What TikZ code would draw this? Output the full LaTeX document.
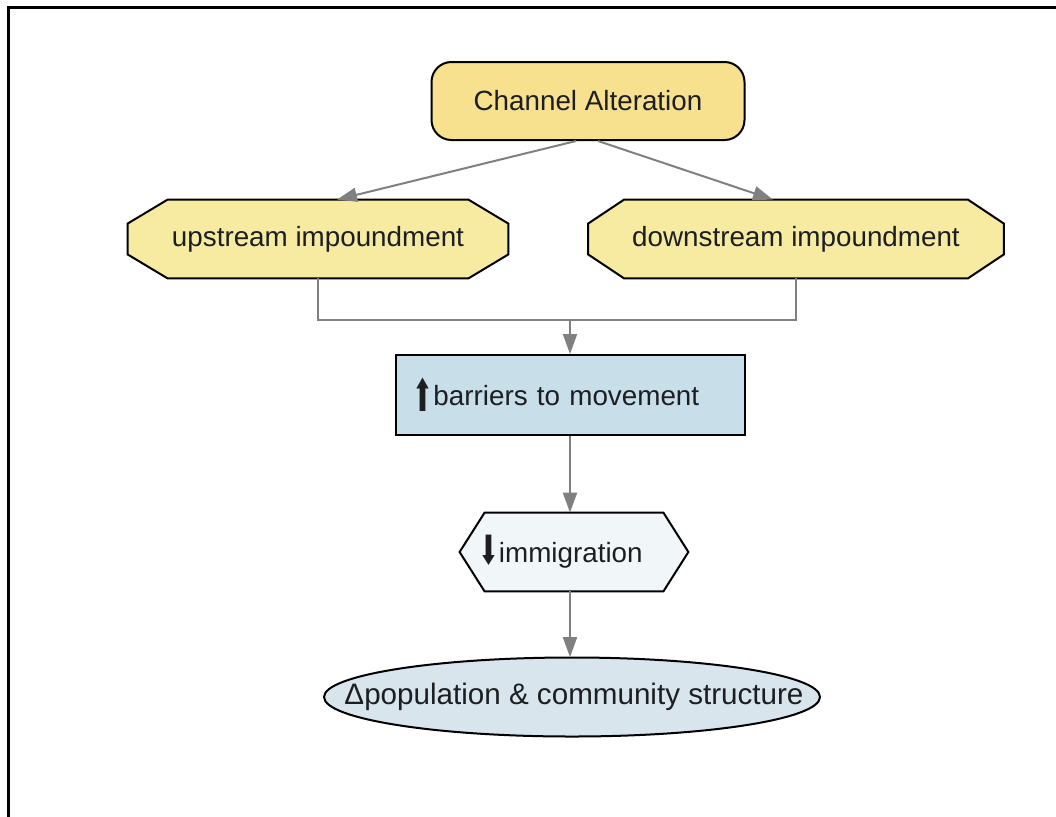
\documentclass[tikz,border=0pt]{standalone}
\usepackage{fontspec}
\usepackage{graphicx}
\setmainfont{Liberation Sans}
\newfontfamily\symfont{DejaVu Sans}
\usetikzlibrary{arrows.meta}
\pgfdeclarelayer{bg}
\pgfsetlayers{bg,main}

\definecolor{alterfill}{RGB}{247,224,142}
\definecolor{impfill}{RGB}{246,235,160}
\definecolor{barfill}{RGB}{200,222,232}
\definecolor{immfill}{RGB}{241,246,249}
\definecolor{popfill}{RGB}{216,229,237}
\definecolor{linkgray}{RGB}{128,128,128}
\definecolor{inkdark}{RGB}{28,30,34}

% tall heavy arrow glyphs used inside labels
\newcommand{\uparr}{\raisebox{-3pt}{\scalebox{0.9}[1.6]{\symfont ⬆}}}
\newcommand{\downarr}{\raisebox{-1pt}{\scalebox{0.9}[1.45]{\symfont ⬇}}}

\tikzset{
  lbl/.style={font=\fontsize{13.9}{16}\selectfont, text=inkdark, inner sep=0pt},
  outline/.style={draw=black, line width=1pt},
  link/.style={draw=linkgray, line width=1pt},
  conn/.style={link, -{Triangle[width=7pt,length=10pt]}},
}

\begin{document}
\begin{tikzpicture}[x=0.5pt, y=-0.5pt]
\useasboundingbox (0,0) rectangle (1056,816);

% frame
\draw[line width=1.5pt, line cap=rect] (8,816) -- (8,7) -- (1056,7);

% nodes
\node[lbl, outline, fill=alterfill, rounded corners=10pt,
      minimum width=156.5pt, minimum height=39pt] (ca) at (588,101) {Channel Alteration};

\node[lbl, minimum width=190pt, minimum height=39pt] (up) at (318,239) {upstream impoundment};
\node[lbl, minimum width=207.5pt, minimum height=39pt] (down) at (796,239) {downstream impoundment};

\node[lbl, outline, fill=barfill, minimum width=174.5pt, minimum height=40pt,
      inner xsep=8.5pt, text width=157.5pt, align=left] (bar) at (570,395)
      {\uparr barriers to movement};

\node[lbl, minimum width=114pt, minimum height=39pt,
      inner xsep=9pt, text width=96pt, align=left] (imm) at (574,552)
      {\downarr immigration};

\node[lbl, font=\fontsize{14.8}{17}\selectfont, minimum width=248pt, minimum height=39.5pt]
      (pop) at (574,697) {Δpopulation \& community structure};

% octagon, hexagon and ellipse outlines behind their labels
\begin{pgfonlayer}{bg}
\fill[white] (0,0) rectangle (1056,816);
\path[outline, fill=impfill]
  ([yshift=-12pt]up.north west) -- ([xshift=20pt]up.north west) --
  ([xshift=-20pt]up.north east) -- ([yshift=-12pt]up.north east) --
  ([yshift=12pt]up.south east) -- ([xshift=-20pt]up.south east) --
  ([xshift=20pt]up.south west) -- ([yshift=12pt]up.south west) -- cycle;
\path[outline, fill=impfill]
  ([yshift=-12pt]down.north west) -- ([xshift=18pt]down.north west) --
  ([xshift=-18pt]down.north east) -- ([yshift=-12pt]down.north east) --
  ([yshift=12pt]down.south east) -- ([xshift=-18pt]down.south east) --
  ([xshift=18pt]down.south west) -- ([yshift=12pt]down.south west) -- cycle;
\path[outline, fill=immfill]
  (imm.west) -- ([xshift=12.5pt]imm.north west) -- ([xshift=-12.5pt]imm.north east) --
  (imm.east) -- ([xshift=-12.5pt]imm.south east) -- ([xshift=12.5pt]imm.south west) -- cycle;
\path[outline, fill=popfill] ([xshift=-1pt]pop.center) ellipse [x radius=124pt, y radius=19.75pt];
\end{pgfonlayer}

% connectors
\draw[conn] ([xshift=-6pt]ca.south) -- ([xshift=9.5pt]up.north);
\draw[conn] ([xshift=5pt]ca.south) -- ([xshift=-11.5pt]down.north);

\coordinate (jn) at (570,320);
\draw[link] (up.south) |- (jn) -| (down.south);
\draw[conn] (jn) -- (jn |- bar.north);
\draw[conn] (bar.south) -- (bar.south |- imm.north);
\draw[conn] (bar.south |- imm.south) -- (bar.south |- pop.north);
\end{tikzpicture}
\end{document}
